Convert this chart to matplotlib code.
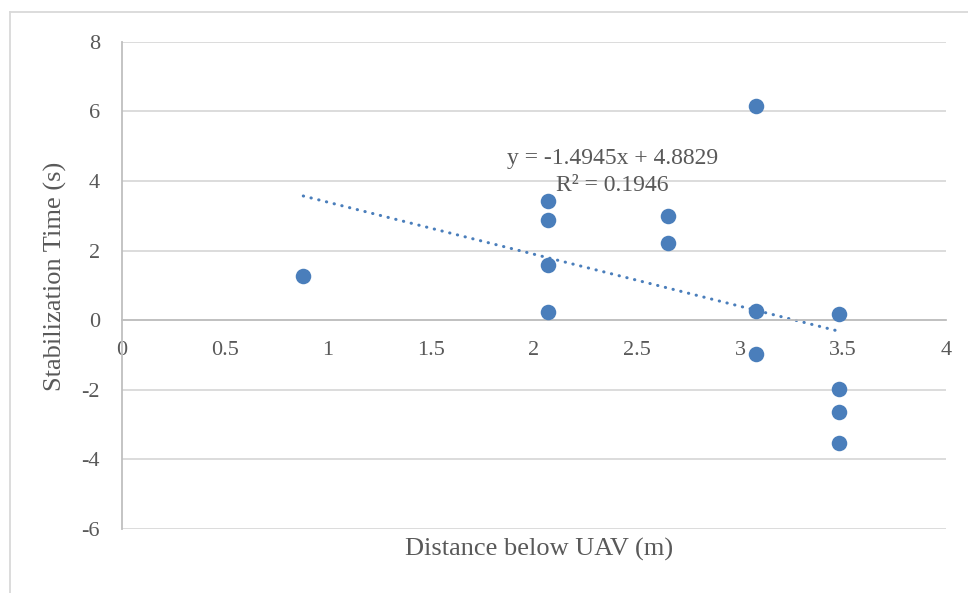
import matplotlib.pyplot as plt
from matplotlib.lines import Line2D

# measured distance below the UAV (m) and stabilization time (s)
distance = [0.88, 2.07, 2.07, 2.07, 2.07, 2.65, 2.65,
            3.08, 3.08, 3.08, 3.48, 3.48, 3.48, 3.48]
stab_time = [1.27, 3.42, 2.87, 1.58, 0.24, 2.99, 2.22,
             6.15, 0.27, -0.96, 0.17, -1.99, -2.64, -3.54]

# linear trendline coefficients
slope = -1.4945
intercept = 4.8829
r_squared = 0.1946

x_ticks = [0, 0.5, 1, 1.5, 2, 2.5, 3, 3.5, 4]
x_tick_labels = ['0', '0.5', '1', '1.5', '2', '2.5', '3', '3.5', '4']
y_ticks = [-6, -4, -2, 0, 2, 4, 6, 8]

plt.rcParams['font.family'] = ['Liberation Serif', 'DejaVu Serif']
plt.rcParams['axes.unicode_minus'] = False
text_col = '#595959'
blue = '#4a7ebb'

W, H = 968, 593
fig = plt.figure(figsize=(W / 100, H / 100), dpi=100)
ax = fig.add_axes([122 / W, 1 - 529 / H, (946 - 122) / W, (529 - 41.7) / H])

ax.scatter(distance, stab_time, s=125, color=blue, zorder=3, linewidths=0)

xs = [min(distance), max(distance)]
ys = [slope * x + intercept for x in xs]
ax.plot(xs, ys, color=blue, lw=2.2, linestyle=(0, (0.1, 2.5)),
        dash_capstyle='round', zorder=2)

ax.set_xlim(0, 4)
ax.set_ylim(-6, 8)
ax.set_xticks(x_ticks)
ax.set_xticklabels(x_tick_labels)
ax.set_yticks(y_ticks)
ax.tick_params(length=0, labelsize=16, labelcolor=text_col)
ax.tick_params(axis='x', pad=15)
ax.tick_params(axis='y', pad=16)

ax.grid(axis='y', color='#d9d9d9', lw=1.3)
ax.set_axisbelow(True)
for s in ['top', 'right']:
    ax.spines[s].set_visible(False)
ax.spines['bottom'].set_position(('data', 0))
ax.spines['bottom'].set_color('#bfbfbf')
ax.spines['bottom'].set_linewidth(1.3)
ax.spines['left'].set_color('#bfbfbf')
ax.spines['left'].set_linewidth(1.3)

ax.text(2.38, 4.65, f'y = {slope}x + {intercept}', ha='center', va='center',
        fontsize=17, color=text_col)
ax.text(2.38, 3.88, f'R² = {r_squared}', ha='center', va='center',
        fontsize=17, color=text_col)

fig.text(539 / W, 1 - 549 / H, 'Distance below UAV (m)', ha='center',
         va='center', fontsize=19, color=text_col)
fig.text(55 / W, 1 - 276 / H, 'Stabilization Time (s)', ha='center',
         va='center', rotation=90, fontsize=19, color=text_col)

# chart area border
fig.add_artist(Line2D([10 / W, 1], [1 - 12 / H, 1 - 12 / H],
                      transform=fig.transFigure, color='#d9d9d9', lw=1.3))
fig.add_artist(Line2D([10 / W, 10 / W], [0, 1 - 12 / H],
                      transform=fig.transFigure, color='#d9d9d9', lw=1.3))

fig.savefig('out.png', dpi=100)
